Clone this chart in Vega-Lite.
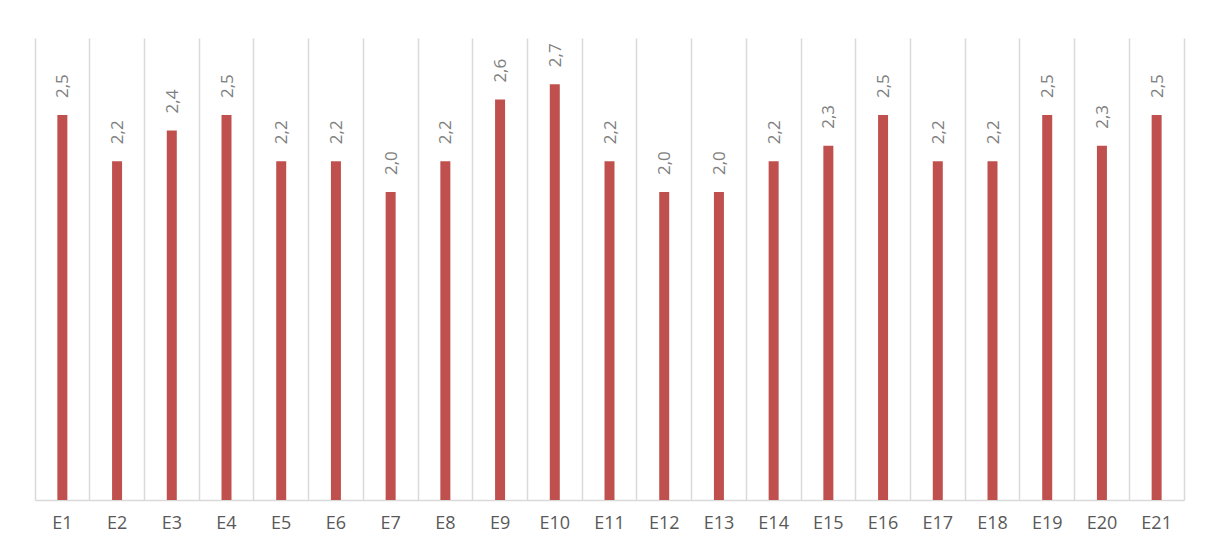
{
  "$schema": "https://vega.github.io/schema/vega-lite/v6.json",
  "autosize": {"type": "none"},
  "width": 1149,
  "height": 462,
  "padding": {"left": 35, "top": 38, "right": 24, "bottom": 52},
  "background": "white",
  "config": {
    "view": {"stroke": null},
    "locale": {"number": {"decimal": ",", "thousands": ".", "grouping": [3], "currency": ["", " €"]}},
    "font": "Open Sans"
  },
  "data": {"values": [
    {"cat": "E1", "value": 2.5},
    {"cat": "E2", "value": 2.2},
    {"cat": "E3", "value": 2.4},
    {"cat": "E4", "value": 2.5},
    {"cat": "E5", "value": 2.2},
    {"cat": "E6", "value": 2.2},
    {"cat": "E7", "value": 2.0},
    {"cat": "E8", "value": 2.2},
    {"cat": "E9", "value": 2.6},
    {"cat": "E10", "value": 2.7},
    {"cat": "E11", "value": 2.2},
    {"cat": "E12", "value": 2.0},
    {"cat": "E13", "value": 2.0},
    {"cat": "E14", "value": 2.2},
    {"cat": "E15", "value": 2.3},
    {"cat": "E16", "value": 2.5},
    {"cat": "E17", "value": 2.2},
    {"cat": "E18", "value": 2.2},
    {"cat": "E19", "value": 2.5},
    {"cat": "E20", "value": 2.3},
    {"cat": "E21", "value": 2.5}
  ]},
  "encoding": {
    "x": {
      "field": "cat", "type": "nominal", "sort": null,
      "scale": {"paddingInner": 0, "paddingOuter": 0},
      "axis": {
        "title": null, "labelAngle": 0, "bandPosition": 0,
        "grid": true, "gridColor": "#d9d9d9", "gridWidth": 1.5,
        "ticks": false, "domainColor": "#d9d9d9", "domainWidth": 1.5,
        "labelColor": "#595959", "labelFontSize": 18, "labelPadding": 14,
        "labelFont": "Open Sans"
      }
    },
    "y": {
      "field": "value", "type": "quantitative",
      "scale": {"domain": [0, 3], "nice": false, "zero": true}
    }
  },
  "layer": [
    {
      "mark": {"type": "bar", "width": 10, "color": "#c0504d"},
      "encoding": {
        "y": {
          "field": "value", "type": "quantitative",
          "scale": {"domain": [0, 3], "nice": false},
          "axis": {"orient": "right", "title": null, "labels": false, "ticks": false, "grid": false, "domainColor": "#d9d9d9", "domainWidth": 1.5}
        }
      }
    },
    {
      "mark": {"type": "text", "angle": 270, "align": "left", "baseline": "middle", "dx": 17, "dy": 1, "fontSize": 17, "color": "#808080", "font": "Open Sans"},
      "encoding": {
        "text": {"field": "value", "type": "quantitative", "format": ".1f"}
      }
    }
  ]
}
